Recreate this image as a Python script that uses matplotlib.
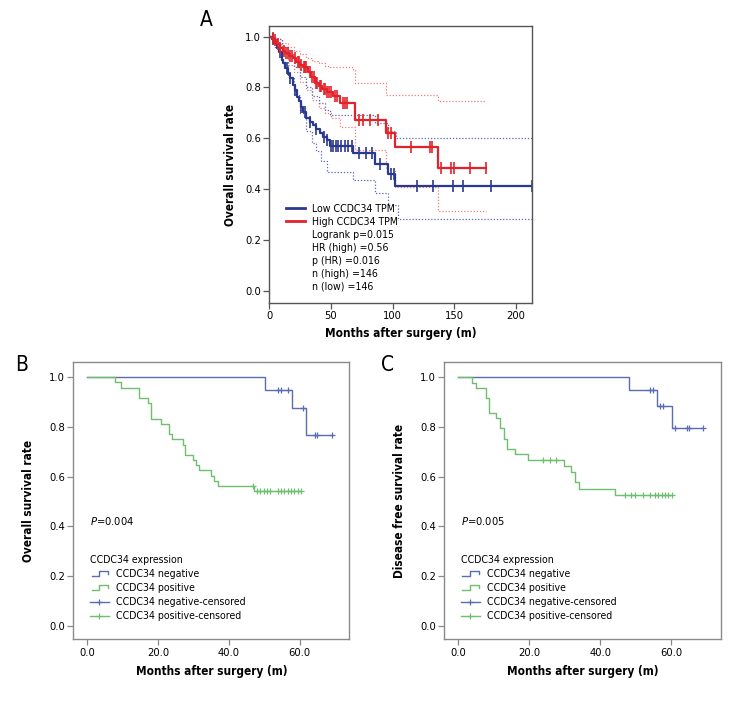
import numpy as np
import matplotlib
matplotlib.use("Agg")
import matplotlib.pyplot as plt
from matplotlib.lines import Line2D
from matplotlib.legend_handler import HandlerBase

plt.rcParams['font.family'] = ['DejaVu Sans']
plt.rcParams['font.stretch'] = 'condensed'
plt.rcParams['mathtext.fontset'] = 'custom'
plt.rcParams['mathtext.it'] = 'DejaVu Sans:italic'
plt.rcParams['mathtext.rm'] = 'DejaVu Sans'

# ---------------- Panel A data (TCGA, months) ----------------
high_t = [2, 4, 6, 8.7, 11, 13, 16, 19.4, 22, 25, 27.6, 31, 34, 37, 40, 43, 46.5, 52, 57, 69.5, 95, 102, 137]
high_s = [0.993, 0.985, 0.97, 0.954, 0.945, 0.935, 0.925, 0.915, 0.9, 0.89, 0.882, 0.86, 0.84, 0.816, 0.805, 0.795, 0.784, 0.765, 0.738, 0.672, 0.62, 0.565, 0.484]
high_end = 176
high_cens = [3, 5, 7, 9, 11.5, 13.5, 15, 17, 18, 21, 23, 24, 26, 28, 29, 30, 33, 35, 36, 38, 39, 41,
             42, 44, 45, 47, 48, 50, 53, 55, 60, 61, 63, 73, 76, 82, 88, 96.5, 99, 114.6, 130,
             131.7, 139, 147, 149.7, 163, 176]
low_t = [2, 4, 6, 8, 10, 11.3, 13, 15, 16.8, 19, 20.5, 22.2, 24, 26, 27.6, 30, 33, 35.7, 38, 41, 43.8, 47, 49.2, 68, 85.6, 96.4, 102]
low_s = [0.99, 0.975, 0.954, 0.94, 0.91, 0.895, 0.875, 0.855, 0.836, 0.81, 0.79, 0.764, 0.745, 0.725, 0.705, 0.68, 0.665, 0.652, 0.635, 0.62, 0.606, 0.595, 0.57, 0.541, 0.50, 0.459, 0.413]
low_end = 213
low_cens = [3, 9, 14, 17, 21, 26, 29, 33, 38, 44, 47, 50, 52, 54, 56, 58, 61, 64, 67, 73, 78,
            83, 90, 99, 101, 120, 133, 148.6, 157, 179.6, 213]

# 95% confidence bands (dotted), step change points
high_up_t = [5, 10, 15, 20, 25, 30, 35, 40, 45, 49, 68, 69.5, 95, 137]
high_up_s = [0.99, 0.975, 0.96, 0.945, 0.93, 0.915, 0.905, 0.895, 0.885, 0.882, 0.87, 0.816, 0.77, 0.747]
high_lo_t = [5, 10, 15, 20, 25, 30, 35, 40, 45, 50, 57, 69.5, 95, 102, 137]
high_lo_s = [0.97, 0.93, 0.89, 0.86, 0.82, 0.79, 0.75, 0.72, 0.70, 0.68, 0.645, 0.553, 0.48, 0.41, 0.314]
low_up_t = [5, 10, 15, 20, 25, 30, 35, 40, 45, 49, 85.6, 96.4, 103]
low_up_s = [0.99, 0.96, 0.93, 0.88, 0.84, 0.80, 0.765, 0.74, 0.71, 0.69, 0.66, 0.628, 0.60]
low_lo_t = [5, 10, 15, 20, 25, 30, 35, 38, 42, 46.5, 68, 85.6, 96.4, 104.6]
low_lo_s = [0.96, 0.90, 0.84, 0.77, 0.70, 0.63, 0.58, 0.55, 0.51, 0.468, 0.436, 0.386, 0.337, 0.282]

legend_a = ["Low CCDC34 TPM", "High CCDC34 TPM", "Logrank p=0.015", "HR (high) =0.56",
            "p (HR) =0.016", "n (high) =146", "n (low) =146"]

# ---------------- Panel B data (overall survival) ----------------
b_neg_t = [50.1, 57.9, 61.9]
b_neg_s = [0.95, 0.877, 0.767]
b_neg_end = 69.0
b_neg_cens = [53.9, 54.8, 56.8, 60.8, 64.2, 65.0, 69.0]
b_pos_t = [7.8, 9.7, 14.6, 17.2, 17.9, 20.9, 23.0, 23.9, 27.0, 27.7, 29.9, 30.8, 31.7, 35.0, 35.8, 36.9, 47.2]
b_pos_s = [0.979, 0.958, 0.917, 0.896, 0.833, 0.812, 0.771, 0.75, 0.729, 0.688, 0.667, 0.646, 0.625, 0.604, 0.583, 0.5625, 0.54]
b_pos_end = 60.4
b_pos_cens = [46.7, 47.9, 48.8, 49.8, 50.7, 51.7, 53.8, 54.8, 55.7, 56.6, 57.6, 58.5, 59.4, 60.4]

# ---------------- Panel C data (disease free survival) ----------------
c_neg_t = [48.1, 55.9, 60.1]
c_neg_s = [0.948, 0.884, 0.797]
c_neg_end = 69.0
c_neg_cens = [54.0, 55.0, 56.8, 57.7, 61.1, 64.4, 65.1, 69.0]
c_pos_t = [3.8, 5.0, 8.0, 8.7, 10.8, 11.7, 13.0, 13.8, 16.0, 19.7, 29.8, 31.9, 32.9, 34.0, 44.1]
c_pos_s = [0.977, 0.957, 0.917, 0.857, 0.837, 0.797, 0.753, 0.711, 0.69, 0.668, 0.643, 0.617, 0.577, 0.551, 0.527]
c_pos_end = 60.1
c_pos_cens = [23.9, 25.8, 27.7, 47.0, 48.8, 49.8, 52.1, 54.0, 55.4, 56.3, 57.3, 58.2, 59.2, 60.1]

legend_bc = ["CCDC34 negative", "CCDC34 positive", "CCDC34 negative-censored", "CCDC34 positive-censored"]

A_BLUE, A_RED = '#2a3990', '#e3232a'
A_BLUE_L, A_RED_L = '#5b66b5', '#f07a7a'
B_BLUE, B_GREEN = '#5b6cb2', '#6fbf6f'
SPINE_A, SPINE_B = '#555555', '#8a8a8a'


def step_xy(t, s, end):
    x = np.r_[0, t, end]
    y = np.r_[1.0, s, s[-1]]
    return x, y


def surv_at(t, s, times):
    idx = np.searchsorted(np.asarray(t), np.asarray(times), side='right')
    vals = np.r_[1.0, s]
    return vals[idx]


def km(ax, t, s, end, cens, color, lw, marker, ms, mew, ls='-'):
    x, y = step_xy(t, s, end)
    ax.step(x, y, where='post', color=color, lw=lw, ls=ls)
    if cens is not None:
        ax.plot(cens, surv_at(t, s, cens), ls='none', marker=marker, ms=ms,
                mew=mew, color=color, clip_on=False)


class StepHandler(HandlerBase):
    def create_artists(self, legend, orig_handle, xdescent, ydescent, width, height, fontsize, trans):
        x0, y0 = -xdescent, -ydescent
        xs = [x0 + 0.1 * width, x0 + 0.5 * width, x0 + 0.5 * width, x0 + 0.95 * width, x0 + 0.95 * width]
        ys = [y0 + 0.2 * height, y0 + 0.2 * height, y0 + 0.85 * height, y0 + 0.85 * height, y0 + 0.5 * height]
        line = Line2D(xs, ys, color=orig_handle.get_color(), lw=orig_handle.get_linewidth(), transform=trans)
        return [line]


def style_axes(ax, spine_color):
    for sp in ax.spines.values():
        sp.set_color(spine_color)
        sp.set_linewidth(1.0)
    ax.tick_params(direction='out', length=4, width=0.9, color=spine_color, labelsize=8, pad=2)


fig = plt.figure(figsize=(7.44, 7.08), dpi=100)

# ---------------- Panel A ----------------
axA = fig.add_axes([0.362, 0.572, 0.353, 0.3913])
for (t, s, end) in [(high_up_t, high_up_s, high_end), (high_lo_t, high_lo_s, high_end)]:
    km(axA, t, s, end, None, A_RED_L, 0.9, None, 0, 0, ls=(0, (1, 1.5)))
for (t, s, end) in [(low_up_t, low_up_s, low_end), (low_lo_t, low_lo_s, low_end)]:
    km(axA, t, s, end, None, A_BLUE_L, 0.9, None, 0, 0, ls=(0, (1, 1.5)))
km(axA, low_t, low_s, low_end, low_cens, A_BLUE, 1.6, '|', 8, 1.2)
km(axA, high_t, high_s, high_end, high_cens, A_RED, 1.6, '|', 8, 1.2)
axA.set_xlim(0, 213)
axA.set_ylim(-0.048, 1.042)
axA.set_xticks([0, 50, 100, 150, 200])
axA.set_yticks([0.0, 0.2, 0.4, 0.6, 0.8, 1.0])
axA.set_yticklabels(['0.0', '0.2', '0.4', '0.6', '0.8', '1.0'])
style_axes(axA, SPINE_A)
axA.set_xlabel('Months after surgery (m)', fontsize=8.5, fontweight='bold', labelpad=4)
axA.set_ylabel('Overall survival rate', fontsize=8.5, fontweight='bold', labelpad=6)
hA = [Line2D([], [], color=A_BLUE, lw=2), Line2D([], [], color=A_RED, lw=2)]
hA += [Line2D([], [], color='none')] * 5
axA.legend(hA, legend_a, loc='upper left', bbox_to_anchor=(0.045, 0.378), frameon=False,
           fontsize=7.6, handlelength=1.8, handletextpad=0.65, labelspacing=0.29, borderpad=0)
fig.text(206 / 744, 1 - 20 / 708, 'A', fontsize=15, ha='center', va='center')


# ---------------- Panels B and C ----------------
def panel_bc(rect, neg, pos, ptext, ylabel, letter, letter_x):
    ax = fig.add_axes(rect)
    km(ax, neg[0], neg[1], neg[2], None, B_BLUE, 1.0, None, 0, 0)
    km(ax, pos[0], pos[1], pos[2], None, B_GREEN, 1.0, None, 0, 0)
    km(ax, neg[0], neg[1], neg[2], neg[3], B_BLUE, 0, '+', 4.5, 0.9)
    km(ax, pos[0], pos[1], pos[2], pos[3], B_GREEN, 0, '+', 4.5, 0.9)
    ax.set_xlim(-3.9, 74)
    ax.set_ylim(-0.055, 1.06)
    ax.set_xticks([0, 20, 40, 60])
    ax.set_xticklabels(['0.0', '20.0', '40.0', '60.0'])
    ax.set_yticks([0.0, 0.2, 0.4, 0.6, 0.8, 1.0])
    ax.set_yticklabels(['0.0', '0.2', '0.4', '0.6', '0.8', '1.0'])
    style_axes(ax, SPINE_B)
    ax.set_xlabel('Months after surgery (m)', fontsize=8.5, fontweight='bold', labelpad=5)
    ax.set_ylabel(ylabel, fontsize=8.5, fontweight='bold', labelpad=10)
    ax.text(0.8, 0.42, ptext, fontsize=8, ha='left', va='center')
    h_neg = Line2D([], [], color=B_BLUE, lw=1.0)
    h_pos = Line2D([], [], color=B_GREEN, lw=1.0)
    h_negc = Line2D([], [], color=B_BLUE, lw=1.0, marker='+', ms=5, mew=0.9)
    h_posc = Line2D([], [], color=B_GREEN, lw=1.0, marker='+', ms=5, mew=0.9)
    ax.legend([h_neg, h_pos, h_negc, h_posc], legend_bc, title='CCDC34 expression',
              title_fontsize=7.6, alignment='left', loc='upper left', bbox_to_anchor=(0.04, 0.322),
              frameon=False, fontsize=7.6, handlelength=1.8, handletextpad=0.7,
              labelspacing=0.38, borderpad=0,
              handler_map={h_neg: StepHandler(), h_pos: StepHandler()})
    fig.text(letter_x / 744, 1 - 365 / 708, letter, fontsize=15, ha='center', va='center')
    return ax


panel_bc([0.0985, 0.097, 0.371, 0.3913], (b_neg_t, b_neg_s, b_neg_end, b_neg_cens),
         (b_pos_t, b_pos_s, b_pos_end, b_pos_cens), r'$\it{P}$=0.004', 'Overall survival rate', 'B', 22)
panel_bc([0.597, 0.097, 0.372, 0.3913], (c_neg_t, c_neg_s, c_neg_end, c_neg_cens),
         (c_pos_t, c_pos_s, c_pos_end, c_pos_cens), r'$\it{P}$=0.005', 'Disease free survival rate', 'C', 388)

fig.savefig('out.png', dpi=100)
